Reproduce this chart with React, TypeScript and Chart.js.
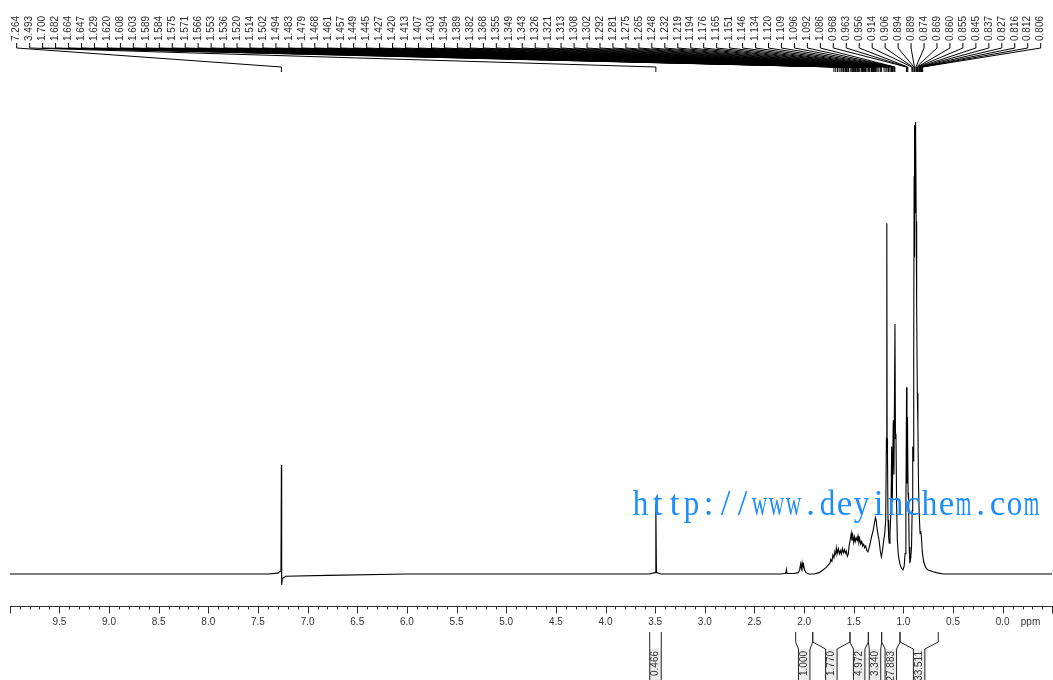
import React, { useEffect, useRef } from "react";
import { Chart, registerables } from "chart.js";

Chart.register(...registerables);

// Spectrum trace (chemical shift in ppm, relative intensity; tallest line = 100)
const shiftPpm = [
  10.0, 7.4, 7.3, 7.275, 7.268, 7.264, 7.261, 7.255, 7.22, 6.8, 6.0,
  3.56, 3.5, 3.493, 3.487, 3.44,
  2.25, 2.185, 2.178, 2.172, 2.1, 2.06, 2.045, 2.035, 2.028, 2.02, 2.012, 2.005, 1.995, 1.98, 1.95,
  1.9, 1.85, 1.81, 1.78, 1.76, 1.74, 1.73, 1.72, 1.71, 1.7, 1.69, 1.68, 1.675, 1.665, 1.655, 1.645,
  1.635, 1.625, 1.615, 1.605, 1.595, 1.585, 1.575, 1.565, 1.555, 1.545, 1.535, 1.525, 1.518, 1.51,
  1.5, 1.492, 1.484, 1.475, 1.465, 1.457, 1.448, 1.44, 1.43, 1.42, 1.41, 1.4, 1.39, 1.38, 1.368,
  1.358, 1.345, 1.332, 1.32, 1.305, 1.292, 1.282, 1.275, 1.265, 1.255, 1.245, 1.232, 1.222, 1.21,
  1.198, 1.188, 1.178, 1.171, 1.167, 1.164, 1.16, 1.155, 1.148, 1.142, 1.135, 1.125, 1.118, 1.112,
  1.102, 1.095, 1.085, 1.08, 1.075, 1.068, 1.061, 1.05, 1.037, 1.02, 1.004, 0.992, 0.983, 0.975,
  0.968, 0.964, 0.959, 0.953, 0.948, 0.942, 0.935, 0.926, 0.918, 0.912, 0.906, 0.9, 0.896, 0.892,
  0.889, 0.886, 0.883, 0.88, 0.877, 0.874, 0.871, 0.868, 0.865, 0.86, 0.854, 0.848, 0.841, 0.832,
  0.826, 0.819, 0.81, 0.796, 0.775, 0.752, 0.7, 0.668, 0.6, -0.5,
];
const intensity = [
  0, 0, 0.2, 0.6, 1.5, 24.1, -2.4, -1.0, -0.5, -0.3, 0,
  0, 0.3, 15.5, 0.3, 0,
  0, 0.1, 1.0, 0.1, 0.1, 0.3, 0.9, 2.2, 1.2, 2.5, 1.4, 2.1, 0.8, 0.3, 0,
  0, 0.3, 0.9, 1.4, 1.9, 2.4, 3.2, 2.8, 4.2, 3.6, 5.0, 4.3, 5.8, 4.6, 5.6, 4.5,
  5.2, 4.4, 5.6, 4.7, 5.4, 4.6, 5.1, 3.9, 4.4, 6.5, 7.6, 9.0, 7.4, 8.6,
  7.0, 8.2, 7.2, 8.0, 7.4, 8.4, 7.0, 7.8, 6.6, 7.2, 6.2, 6.6, 5.8, 6.2, 5.2,
  4.9, 5.8, 7.0, 8.3, 9.6, 11.2, 12.5, 12.0, 10.0, 8.6, 7.5, 5.0, 3.8, 5.2,
  7.5, 9.0, 12.0, 30.0, 77.6, 30.0, 26.3, 12.0, 8.0, 6.8, 9.0, 14.0, 28.2, 16.0,
  34.0, 22.0, 55.3, 30.0, 31.0, 15.0, 7.5, 4.0, 2.4, 1.3, 0.9, 1.8, 4.5, 14.0,
  41.3, 20.0, 34.8, 18.0, 16.4, 6.0, 2.4, 3.5, 6.0, 14.0, 28.2, 25.0, 48.0, 88.0,
  70.0, 99.3, 80.0, 100.0, 84.0, 98.0, 78.0, 64.0, 59.9, 40.0, 33.0, 20.0, 13.4, 9.0,
  9.5, 8.3, 5.0, 2.7, 1.4, 0.9, 0.5, 0.3, 0, 0,
];

// Peak-pick labels across the top
const peakLabels = [
  7.264, 3.493, 1.7, 1.682, 1.664, 1.647, 1.629, 1.62, 1.608, 1.603, 1.589, 1.584, 1.575, 1.571,
  1.566, 1.553, 1.536, 1.52, 1.514, 1.502, 1.494, 1.483, 1.479, 1.468, 1.461, 1.457, 1.449, 1.445,
  1.427, 1.42, 1.413, 1.407, 1.403, 1.394, 1.389, 1.382, 1.368, 1.355, 1.349, 1.343, 1.326, 1.321,
  1.313, 1.308, 1.302, 1.292, 1.281, 1.275, 1.265, 1.248, 1.232, 1.219, 1.194, 1.176, 1.165, 1.151,
  1.146, 1.134, 1.12, 1.109, 1.096, 1.092, 1.086, 0.968, 0.963, 0.956, 0.914, 0.906, 0.894, 0.889,
  0.874, 0.869, 0.86, 0.855, 0.845, 0.837, 0.827, 0.816, 0.812, 0.806,
];

// X axis tick labels
const axisTickLabels = [
  "9.5", "9.0", "8.5", "8.0", "7.5", "7.0", "6.5", "6.0", "5.5", "5.0",
  "4.5", "4.0", "3.5", "3.0", "2.5", "2.0", "1.5", "1.0", "0.5", "0.0",
];
const axisUnit = "ppm";

// Integrals
const integralFrom = [3.555, 2.085, 1.913, 1.538, 1.353, 1.219, 1.034];
const integralTo = [3.438, 1.913, 1.538, 1.353, 1.219, 1.034, 0.649];
const integralValues = ["0.466", "1.000", "1.770", "4.972", "3.340", "27.883", "33.511"];

const watermarkText = "http://www.deyinchem.com";

const decorPlugin = {
  id: "nmrDecor",
  afterDraw(chart: any) {
    const ctx: CanvasRenderingContext2D = chart.ctx;
    const xs = chart.scales.x;
    const px = (v: number) => xs.getPixelForValue(v);
    ctx.save();

    // ---- x axis ----
    const axisY = 606.5;
    ctx.strokeStyle = "#333";
    ctx.lineWidth = 1.2;
    ctx.beginPath();
    ctx.moveTo(px(10.0), axisY);
    ctx.lineTo(1053, axisY);
    ctx.stroke();
    ctx.lineWidth = 1;
    for (let i = -5; i <= 100; i++) {
      const v = i / 10;
      const x = Math.round(px(v)) + 0.5;
      const major = i % 5 === 0;
      ctx.beginPath();
      ctx.moveTo(x, axisY);
      ctx.lineTo(x, axisY + (major ? 7 : 3));
      ctx.stroke();
    }
    ctx.fillStyle = "#333";
    ctx.font = "10px 'Liberation Sans', Arial, sans-serif";
    ctx.textAlign = "center";
    ctx.textBaseline = "middle";
    axisTickLabels.forEach((t) => {
      ctx.fillText(t, px(parseFloat(t)), 622);
    });
    ctx.fillText(axisUnit, px(-0.28), 622);

    // ---- peak labels ----
    ctx.strokeStyle = "#000";
    ctx.lineWidth = 1;
    const n = peakLabels.length;
    peakLabels.forEach((p, i) => {
      const lx = 16.7 + i * ((1040.7 - 16.7) / (n - 1));
      const pxv = px(p);
      ctx.beginPath();
      ctx.moveTo(lx, 43);
      ctx.lineTo(lx, 48);
      ctx.lineTo(pxv, 67);
      ctx.lineTo(pxv, 72);
      ctx.stroke();
      ctx.save();
      ctx.translate(lx, 41);
      ctx.rotate(-Math.PI / 2);
      ctx.fillStyle = "#2a2a2a";
      ctx.font = "10px 'Liberation Sans', Arial, sans-serif";
      ctx.textAlign = "left";
      ctx.textBaseline = "middle";
      ctx.fillText(p.toFixed(3), 0, 0);
      ctx.restore();
    });

    // ---- integrals ----
    const boxW = 11.5;
    integralValues.forEach((val, i) => {
      const a = px(integralFrom[i]);
      const b = px(integralTo[i]);
      const cx = (a + b) / 2;
      const l = cx - boxW / 2;
      const r = cx + boxW / 2;
      ctx.fillStyle = "#ececec";
      ctx.fillRect(l, 649, boxW, 31);
      ctx.strokeStyle = "#222";
      ctx.lineWidth = 1;
      ctx.beginPath();
      ctx.moveTo(a, 632);
      ctx.lineTo(a, 642);
      ctx.lineTo(l, 649);
      ctx.lineTo(l, 680);
      ctx.moveTo(b, 632);
      ctx.lineTo(b, 642);
      ctx.lineTo(r, 649);
      ctx.lineTo(r, 680);
      ctx.stroke();
      ctx.save();
      ctx.translate(cx, 651);
      ctx.rotate(-Math.PI / 2);
      ctx.fillStyle = "#333";
      ctx.font = "10px 'Liberation Sans', Arial, sans-serif";
      ctx.textAlign = "right";
      ctx.textBaseline = "middle";
      ctx.fillText(val, 0, 0);
      ctx.restore();
    });

    // ---- watermark (monospaced serif look: one cell per character) ----
    ctx.fillStyle = "#1c8cff";
    ctx.font = "35px 'Liberation Serif', 'DejaVu Serif', serif";
    ctx.textAlign = "center";
    ctx.textBaseline = "alphabetic";
    const cell = 17;
    const startX = 632;
    for (let i = 0; i < watermarkText.length; i++) {
      const ch = watermarkText[i];
      const w = ctx.measureText(ch).width;
      const s = Math.min(1, 15.5 / w);
      ctx.save();
      ctx.translate(startX + cell * i + cell / 2, 515);
      ctx.scale(s, 1);
      ctx.fillText(ch, 0, 0);
      ctx.restore();
    }

    ctx.restore();
  },
};

export default function App() {
  const ref = useRef<HTMLCanvasElement | null>(null);
  useEffect(() => {
    document.body.style.margin = "0";
    document.body.style.background = "#fff";
    const canvas = ref.current;
    if (!canvas) return;
    const points = shiftPpm.map((x, i) => ({ x, y: intensity[i] }));
    const chart = new Chart(canvas, {
      type: "line",
      data: {
        datasets: [
          {
            data: points,
            borderColor: "#000",
            borderWidth: 1.1,
            pointRadius: 0,
            tension: 0,
            fill: false,
          },
        ],
      },
      options: {
        animation: false,
        responsive: false,
        events: [],
        layout: { padding: { left: 9.7, right: 0.65, top: 80, bottom: 80 } },
        plugins: { legend: { display: false }, tooltip: { enabled: false } },
        scales: {
          x: { type: "linear", reverse: true, min: -0.5, max: 10.0, display: false },
          y: { type: "linear", min: -5.75, max: 109.29, display: false },
        },
      },
      plugins: [decorPlugin],
    } as any);
    return () => chart.destroy();
  }, []);
  return (
    <div style={{ width: 1053, height: 680, background: "#fff" }}>
      <canvas ref={ref} width={1053} height={680} style={{ display: "block" }} />
    </div>
  );
}
